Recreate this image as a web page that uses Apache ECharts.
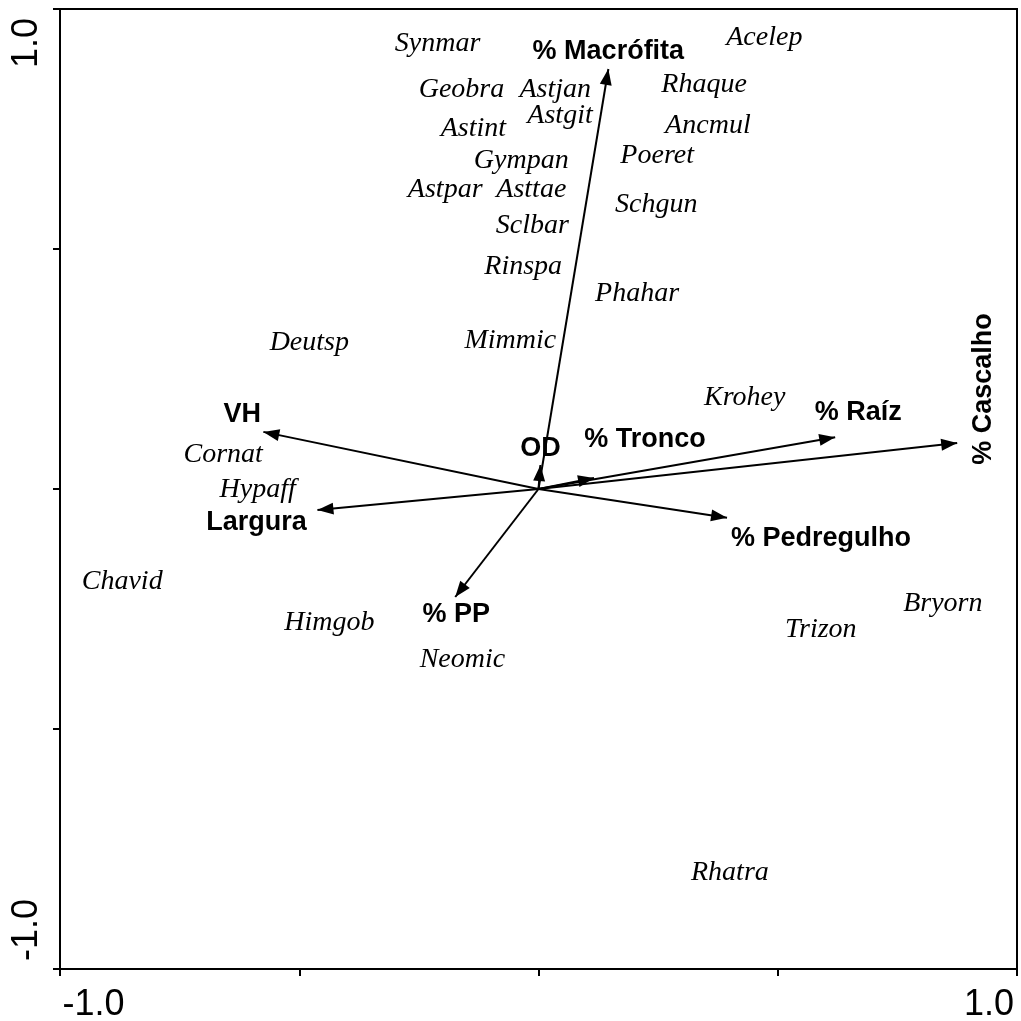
<!DOCTYPE html>
<html><head><meta charset="utf-8">
<script src="https://cdn.jsdelivr.net/npm/echarts@6/dist/echarts.min.js"></script>
<style>html,body{margin:0;padding:0;background:#fff}#c{width:1021px;height:1021px}</style>
</head><body><div id="c"></div>
<script>
// ---- data ----
const speciesNames = ['Synmar','Acelep','Geobra','Astjan','Rhaque','Astgit','Astint','Ancmul','Gympan','Poeret',
  'Astpar','Asttae','Schgun','Sclbar','Rinspa','Phahar','Deutsp','Mimmic','Krohey','Cornat',
  'Hypaff','Chavid','Himgob','Neomic','Trizon','Bryorn','Rhatra'];
const speciesX = [-0.211, 0.472, -0.161, 0.035, 0.346, 0.045, -0.136, 0.354, -0.036, 0.248,
  -0.195, -0.015, 0.246, -0.013, -0.032, 0.206, -0.479, -0.059, 0.431, -0.659,
  -0.587, -0.870, -0.437, -0.159, 0.590, 0.845, 0.400];
const speciesY = [0.927, 0.940, 0.833, 0.833, 0.842, 0.777, 0.750, 0.758, 0.685, 0.694,
  0.623, 0.623, 0.592, 0.548, 0.463, 0.408, 0.304, 0.310, 0.190, 0.071,
  -0.002, -0.194, -0.279, -0.356, -0.292, -0.238, -0.800];

const envNames = ['% Macrófita','VH','Largura','OD','% Tronco','% Raíz','% Cascalho','% Pedregulho','% PP'];
const envX = [0.146, -0.575, -0.462, 0.004, 0.116, 0.620, 0.875, 0.394, -0.174];
const envY = [0.875, 0.119, -0.044, 0.050, 0.023, 0.108, 0.096, -0.060, -0.225];

const tickValues = [-1, -0.5, 0, 0.5, 1];
const tickLabels = ['-1.0', '', '', '', '1.0'];

// ---- styles (label placement relative to arrow tips, pixels; offset is in the label's own frame) ----
const envLabelStyle = {
  '% Macrófita': {offset: [0, -17]},
  'VH': {offset: [-21, -17]},
  'Largura': {offset: [-61, 12]},
  'OD': {offset: [0, -16]},
  '% Tronco': {offset: [51, -38]},
  '% Raíz': {offset: [23, -25]},
  '% Cascalho': {offset: [54, 26], rotate: 90},
  '% Pedregulho': {offset: [94, 21]},
  '% PP': {offset: [1, 18]}
};

function tickText(v) {
  const i = tickValues.indexOf(v);
  return i >= 0 ? tickLabels[i] : '';
}

const chart = echarts.init(document.getElementById('c'), null, {renderer: 'canvas'});
const axisFont = {fontFamily: 'Liberation Sans, Arial, sans-serif', fontSize: 36, color: '#000'};

const option = {
  backgroundColor: '#fff',
  animation: false,
  grid: {left: 60, right: 4, top: 9, bottom: 52, show: true, borderColor: '#000', borderWidth: 2,
    backgroundColor: 'transparent', containLabel: false, outerBoundsMode: 'none'},
  xAxis: {
    type: 'value', min: -1, max: 1, interval: 0.5,
    axisLine: {show: true, onZero: false, lineStyle: {color: '#000', width: 2}},
    axisTick: {show: true, inside: false, length: 7, lineStyle: {color: '#000', width: 2}},
    splitLine: {show: false},
    axisLabel: {
      show: true, margin: 18, ...axisFont,
      formatter: function (v) {
        const t = tickText(v);
        if (!t) return '';
        return v < 0 ? '{mn|' + t + '}' : '{mx|' + t + '}';
      },
      rich: {
        mn: {...axisFont, padding: [0, 0, 0, 67]},
        mx: {...axisFont, padding: [0, 56, 0, 0]}
      }
    }
  },
  yAxis: {
    type: 'value', min: -1, max: 1, interval: 0.5,
    axisLine: {show: true, onZero: false, lineStyle: {color: '#000', width: 2}},
    axisTick: {show: true, inside: false, length: 7, lineStyle: {color: '#000', width: 2}},
    splitLine: {show: false},
    axisLabel: {
      show: true, margin: 15, rotate: 90, ...axisFont,
      formatter: function (v) {
        const t = tickText(v);
        if (!t) return '';
        return v < 0 ? '{mn|' + t + '}' : '{mx|' + t + '}';
      },
      rich: {
        mn: {...axisFont, padding: [0, 0, 0, 78]},
        mx: {...axisFont, padding: [0, 68, 0, 0]}
      }
    }
  },
  series: [
    {
      type: 'lines',
      coordinateSystem: 'cartesian2d',
      polyline: false,
      silent: true,
      symbol: ['none', 'path://M6,0L6,0M6,16L12,32L0,32Z'],
      symbolSize: [0, [12, 32]],
      lineStyle: {color: '#000', width: 2, opacity: 1, curveness: 0},
      data: envNames.map((n, i) => ({name: n, coords: [[0, 0], [envX[i], envY[i]]]}))
    },
    {
      type: 'scatter',
      silent: true,
      symbolSize: 1,
      itemStyle: {color: 'rgba(0,0,0,0)', opacity: 1},
      label: {
        show: true, position: 'inside', color: '#000', opacity: 1, textBorderWidth: 0,
        fontFamily: 'Liberation Sans, Arial, sans-serif', fontWeight: 'bold', fontSize: 27,
        formatter: p => p.name
      },
      data: envNames.map((n, i) => ({
        name: n, value: [envX[i], envY[i]],
        label: {offset: envLabelStyle[n].offset, rotate: envLabelStyle[n].rotate || 0}
      }))
    },
    {
      type: 'scatter',
      silent: true,
      symbolSize: 1,
      itemStyle: {color: 'rgba(0,0,0,0)', opacity: 1},
      label: {
        show: true, position: 'inside', color: '#000', opacity: 1, textBorderWidth: 0,
        fontFamily: 'Liberation Serif, Times New Roman, serif', fontStyle: 'italic', fontSize: 28,
        formatter: p => p.name
      },
      data: speciesNames.map((n, i) => ({name: n, value: [speciesX[i], speciesY[i]]}))
    }
  ]
};
chart.setOption(option);
</script>
</body></html>
